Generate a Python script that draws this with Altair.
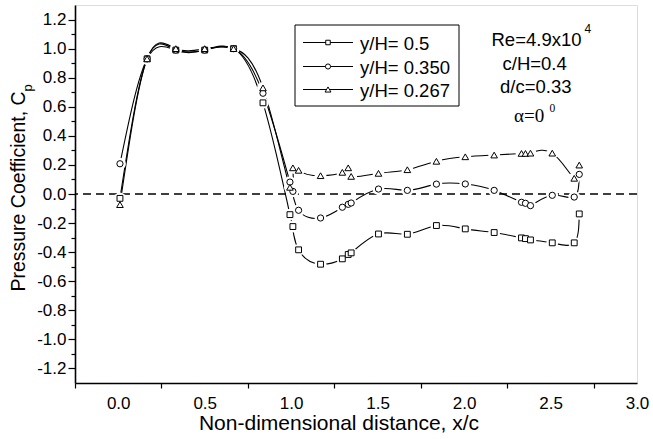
import altair as alt
import pandas as pd

# ---- data ----
x_pos = [0.01, 0.167, 0.333, 0.5, 0.667, 0.837, 0.993, 1.010, 1.043, 1.170, 1.296,
         1.330, 1.347, 1.505, 1.672, 1.840, 2.007, 2.174, 2.332, 2.355, 2.384,
         2.510, 2.637, 2.666]
cp_050 = [-0.03, 0.93, 0.99, 0.99, 1.00, 0.627, -0.142, -0.224, -0.384, -0.483, -0.446,
          -0.416, -0.405, -0.275, -0.277, -0.217, -0.240, -0.265, -0.302, -0.307, -0.316,
          -0.336, -0.336, -0.137]
cp_0350 = [0.208, 0.93, 0.99, 0.99, 1.00, 0.693, 0.082, 0.018, -0.112, -0.165, -0.091,
           -0.071, -0.062, 0.034, 0.025, 0.068, 0.069, 0.025, -0.057, -0.064, -0.080,
           -0.009, -0.021, 0.135]
cp_0267 = [-0.073, 0.93, 1.00, 1.00, 1.00, 0.730, 0.046, 0.180, 0.163, 0.126, 0.149,
           0.180, 0.121, 0.142, 0.167, 0.225, 0.256, 0.268, 0.279, 0.279, 0.281,
           0.281, 0.108, 0.199]
series = ["0.5", "0.350", "0.267"]
legend_labels = ["y/H= 0.5", "y/H= 0.350", "y/H= 0.267"]
shapes = ["square", "circle", "triangle-up"]
sizes = [34, 44, 58]
x_ticks = [i / 4 for i in range(-1, 13)]
y_ticks = [i / 10 for i in range(-12, 13)]

rows = []
for s, ys in zip(series, [cp_050, cp_0350, cp_0267]):
    for xv, yv in zip(x_pos, ys):
        rows.append({"x": xv, "cp": yv, "s": s})
df = pd.DataFrame(rows)

FONT = "Liberation Sans"

X_ENC = alt.X(
    "x:Q",
    scale=alt.Scale(domain=[-0.25, 3.0], nice=False, zero=False),
    axis=alt.Axis(
        values=x_ticks,
        labelExpr="datum.value % 0.5 == 0 ? format(datum.value, '.1f') : ''",
        tickOpacity={"condition": {"test": "datum.value % 0.5 == 0", "value": 0}, "value": 1},
        tickSize=5, tickColor="black", tickWidth=1.2,
        labelPadding=7, labelFontSize=17, labelFont=FONT, labelColor="black",
        labelFlush=False, labelOverlap=False,
        domainColor="black", domainWidth=1.6, grid=False, title=None,
    ),
)
Y_ENC = alt.Y(
    "cp:Q",
    scale=alt.Scale(domain=[-1.3, 1.3], nice=False, zero=False),
    axis=alt.Axis(
        values=y_ticks,
        labelExpr="abs(round(datum.value*10)) % 2 == 0 ? replace(format(datum.value, '.1f'), '\u2212', '-') : ''",
        tickSize={"condition": {"test": "abs(round(datum.value*10)) % 2 == 0", "value": 7}, "value": 4},
        tickColor="black", tickWidth=1.2,
        labelPadding=2, labelFontSize=17, labelFont=FONT, labelColor="black",
        labelFlush=False, labelOverlap=False,
        domainColor="black", domainWidth=1.6, grid=False, title=None,
    ),
)

shape_scale = alt.Scale(domain=series, range=shapes)
size_scale = alt.Scale(domain=series, range=sizes)

base = alt.Chart(df)

zero_line = alt.Chart(pd.DataFrame({"x": [-0.25], "cp": [0.0]})).mark_rule(
    color="black", strokeDash=[8, 5], strokeWidth=1.3
).encode(y=Y_ENC)

lines = base.mark_line(interpolate="natural", color="black", strokeWidth=1.1).encode(
    x=X_ENC, y=Y_ENC, detail="s:N"
)
blockers = base.mark_point(filled=True, fill="white", stroke=None, opacity=1, shape="circle", size=140).encode(
    x=X_ENC, y=Y_ENC
)
markers = base.mark_point(filled=True, fill="white", stroke="black", strokeWidth=1, opacity=1).encode(
    x=X_ENC, y=Y_ENC,
    shape=alt.Shape("s:N", scale=shape_scale, legend=None),
    size=alt.Size("s:N", scale=size_scale, legend=None),
)

one = pd.DataFrame({"k": [0]})
deco = []

# legend box
deco.append(alt.Chart(one).mark_rect(fill="white", stroke="black", strokeWidth=1).encode(
    x=alt.value(220), x2=alt.value(384), y=alt.value(20), y2=alt.value(101)))
row_y = [37.5, 61.5, 84.5]
for lab, shp, sz, ry in zip(legend_labels, shapes, sizes, row_y):
    deco.append(alt.Chart(one).mark_rule(color="black", strokeWidth=1).encode(
        x=alt.value(228), x2=alt.value(278), y=alt.value(ry)))
    deco.append(alt.Chart(one).mark_point(filled=True, fill="white", stroke="black", strokeWidth=1,
                                          opacity=1, shape=shp, size=sz * 0.6).encode(
        x=alt.value(253), y=alt.value(ry)))
    deco.append(alt.Chart(one).mark_text(text=lab, font=FONT, fontSize=18.5, align="left",
                                         baseline="middle", color="black").encode(
        x=alt.value(285), y=alt.value(ry + 1)))

# annotation
ann = [("Re=4.9x10", 416.5, 35, 18.5), ("c/H=0.4", 427.5, 58.5, 18.5),
       ("d/c=0.33", 425, 81.5, 18.5)]
for t, ax, ay, fs in ann:
    deco.append(alt.Chart(one).mark_text(text=t, font=FONT, fontSize=fs, align="left",
                                         baseline="middle", color="black").encode(
        x=alt.value(ax), y=alt.value(ay)))
deco.append(alt.Chart(one).mark_text(text="4", font=FONT, fontSize=12, align="left",
                                     baseline="middle", color="black").encode(
    x=alt.value(509.5), y=alt.value(23.5)))
deco.append(alt.Chart(one).mark_text(text="\u03b1=0", font="Liberation Serif", fontSize=19, align="left",
                                     baseline="alphabetic", color="black").encode(
    x=alt.value(439), y=alt.value(117)))
deco.append(alt.Chart(one).mark_text(text="0", font="Liberation Serif", fontSize=11.5, align="left",
                                     baseline="middle", color="black").encode(
    x=alt.value(474.5), y=alt.value(103.5)))

# axis titles
deco.append(alt.Chart(one).mark_text(text="Non-dimensional distance, x/c", font=FONT, fontSize=21,
                                     align="center", baseline="alphabetic", color="black").encode(
    x=alt.value(264), y=alt.value(425)))
deco.append(alt.Chart(one).mark_text(text="Pressure Coefficient, C", font=FONT, fontSize=19.5, angle=270,
                                     align="center", baseline="middle", color="black").encode(
    x=alt.value(-56.5), y=alt.value(186.5)))
deco.append(alt.Chart(one).mark_text(text="p", font=FONT, fontSize=13, angle=270,
                                     align="center", baseline="middle", color="black").encode(
    x=alt.value(-47), y=alt.value(83)))

chart = alt.layer(zero_line, lines, blockers, markers, *deco).properties(
    width=562, height=378,
    autosize=alt.AutoSizeParams(type="none"),
    padding={"left": 75, "top": 5, "right": 16, "bottom": 56},
).configure_view(stroke="black", strokeWidth=1).configure(background="white")

chart.save("out.html", embed_options={"renderer": "svg", "actions": False})
